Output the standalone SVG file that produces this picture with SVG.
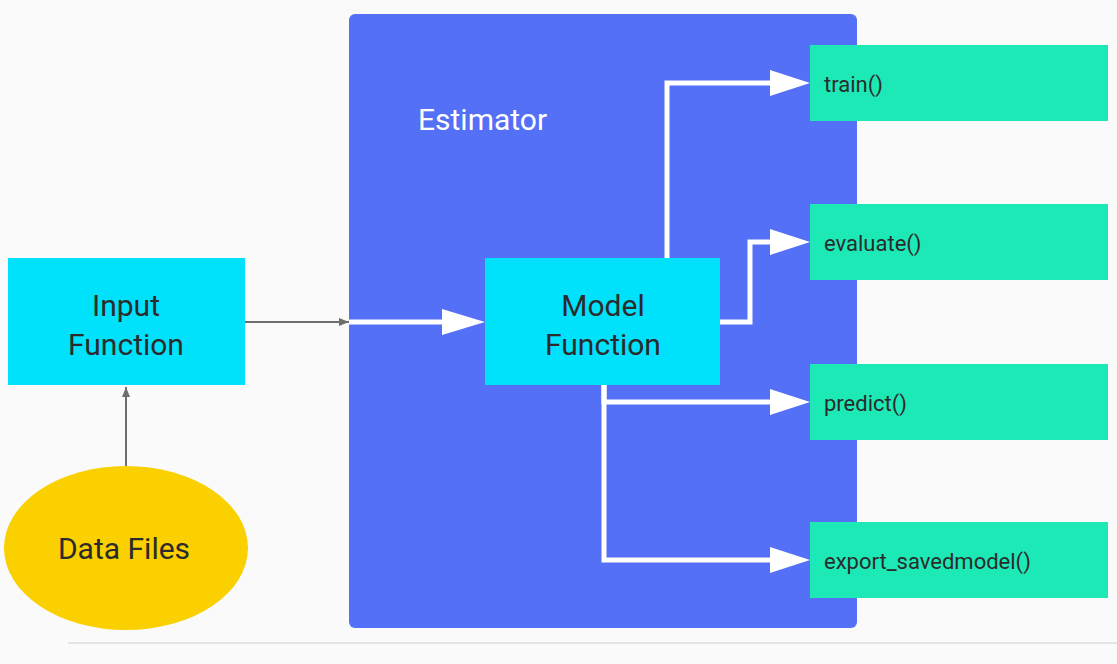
<svg xmlns="http://www.w3.org/2000/svg" width="1117" height="664" viewBox="0 0 1117 664">
<defs>
<style>
text{font-family:Roboto,"Liberation Sans",sans-serif;fill:#2b2b2b}
.big{font-size:30px}
.m{font-size:22px}
.w{stroke:#fff;stroke-width:5;fill:none}
.g{stroke:#6e6e6e;stroke-width:2;fill:none}
.out{fill:#1de9b6}
</style>
<marker id="wa" markerWidth="10" markerHeight="8" refX="9" refY="4" orient="auto" markerUnits="userSpaceOnUse" viewBox="0 0 10 8"><path d="M0,0 L10,4 L0,8 Z" fill="#fff"/></marker>
<marker id="ga" markerWidth="10" markerHeight="8" refX="10" refY="4" orient="auto" markerUnits="userSpaceOnUse" viewBox="0 0 10 8"><path d="M0,0 L10,4 L0,8 Z" fill="#6e6e6e"/></marker>
</defs>
<rect width="1117" height="664" fill="#fafafa"/>
<line x1="68" y1="643" x2="1117" y2="643" stroke="#dcdcdc" stroke-width="1.5"/>
<g id="estimator"><rect x="349" y="14" width="508" height="614" rx="6" fill="#5470f7"/><text x="418" y="130" class="big" style="fill:#fff">Estimator</text></g>
<g id="connectors">
<line class="g" x1="126" y1="466" x2="126" y2="387" marker-end="url(#ga)"/>
<line class="g" x1="245" y1="322" x2="349" y2="322" marker-end="url(#ga)"/>
<line class="w" x1="349" y1="322" x2="442" y2="322"/>
<path d="M442,309 L485,322 L442,335 Z" fill="#fff"/>
<path class="w" d="M667,258 V83 H772"/>
<path d="M770,70 L810,83 L770,96 Z" fill="#fff"/>
<path class="w" d="M720,322 H750 V242 H772"/>
<path d="M770,229 L810,242 L770,255 Z" fill="#fff"/>
<path class="w" d="M604,385 V402 H772"/>
<path d="M770,389 L810,402 L770,415 Z" fill="#fff"/>
<path class="w" d="M604,385 V560 H772"/>
<path d="M770,547 L810,560 L770,573 Z" fill="#fff"/>
</g>
<g id="input"><rect x="8" y="258" width="237" height="127" fill="#00e1fb"/><text x="126" y="316" class="big" text-anchor="middle">Input</text><text x="126" y="355" class="big" text-anchor="middle">Function</text></g>
<g id="data"><ellipse cx="126" cy="548" rx="122" ry="82" fill="#fbd000"/><text x="124" y="559" class="big" text-anchor="middle">Data Files</text></g>
<g id="model"><rect x="485" y="258" width="235" height="127" fill="#00e1fb"/><text x="603" y="316" class="big" text-anchor="middle">Model</text><text x="603" y="355" class="big" text-anchor="middle">Function</text></g>
<g id="train"><rect class="out" x="810" y="45" width="298" height="76"/><text x="824" y="92" class="m">train()</text></g>
<g id="evaluate"><rect class="out" x="810" y="204" width="298" height="76"/><text x="824" y="251" class="m">evaluate()</text></g>
<g id="predict"><rect class="out" x="810" y="364" width="298" height="76"/><text x="824" y="411" class="m">predict()</text></g>
<g id="export"><rect class="out" x="810" y="522" width="298" height="76"/><text x="824" y="569" class="m">export_savedmodel()</text></g>
</svg>
